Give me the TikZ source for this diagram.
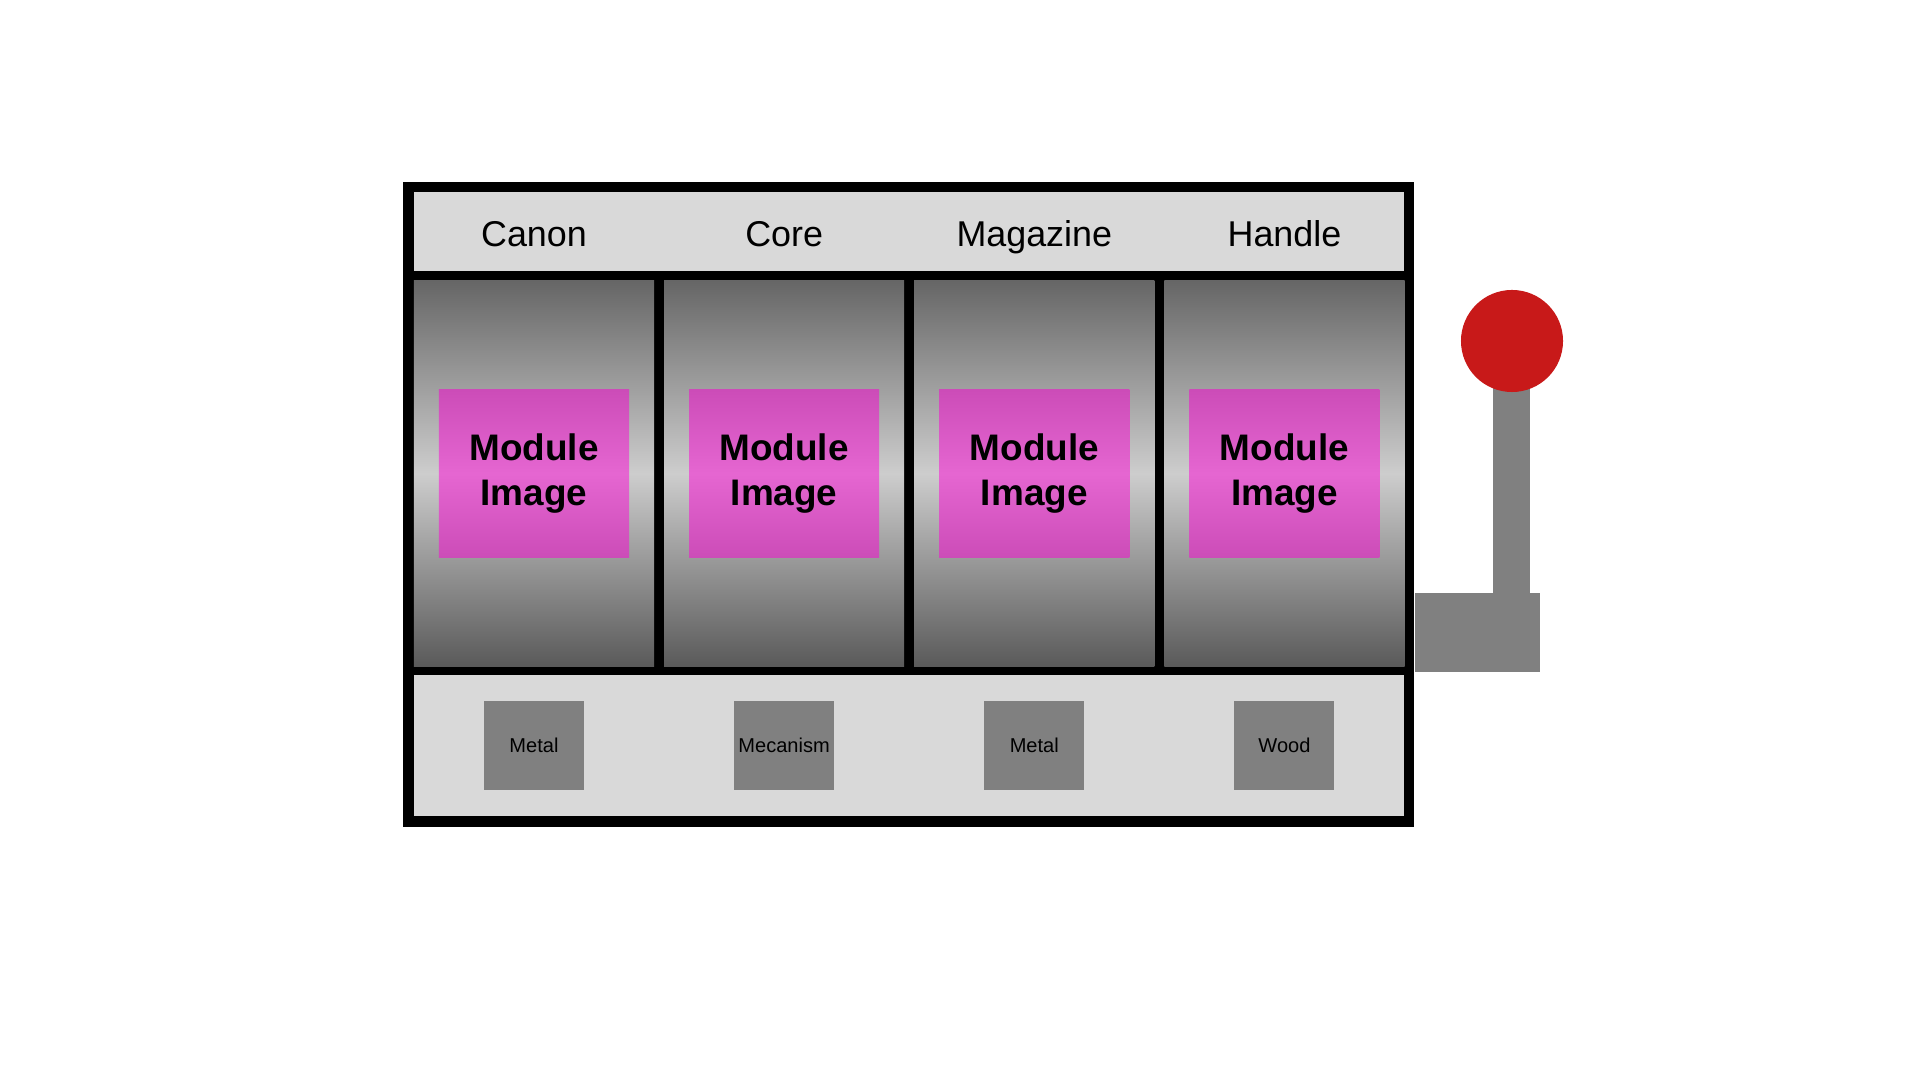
\documentclass[tikz,border=0pt]{standalone}
\usepackage{fontspec}
\setmainfont{Liberation Sans}
\usepackage{tikz}
\usetikzlibrary{positioning}
\definecolor{panelgray}{RGB}{217,217,217}
\definecolor{boxgray}{RGB}{128,128,128}
\definecolor{reeltop}{RGB}{102,102,102}
\definecolor{reelmid}{RGB}{205,205,205}
\definecolor{reelbot}{RGB}{90,90,90}
\definecolor{magedge}{RGB}{204,76,184}
\definecolor{magmid}{RGB}{229,102,209}
\definecolor{knobred}{RGB}{200,25,25}

\begin{document}
\begin{tikzpicture}[x=0.01cm, y=-0.01cm, node distance=0.1cm,
		panel/.style={rectangle, fill=panelgray, inner sep=0pt, outer sep=0pt, minimum width=9.9cm},
		reel/.style={rectangle, inner sep=0pt, outer sep=0pt, minimum width=2.4cm, minimum height=3.85cm,
			top color=reeltop, bottom color=reelbot, middle color=reelmid},
		modimg/.style={rectangle, inner sep=0pt, minimum width=1.9cm, minimum height=1.68cm,
			top color=magedge, bottom color=magedge, middle color=magmid, align=center,
			font=\fontsize{10.5}{12.8}\selectfont\bfseries},
		title/.style={inner sep=0pt, text height=0.36cm, text depth=0.05cm, font=\fontsize{10.2}{12}\selectfont},
		material/.style={rectangle, fill=boxgray, inner sep=0pt, minimum width=1cm, minimum height=0.88cm,
			font=\fontsize{5.7}{7}\selectfont}]
			\useasboundingbox (0,0) rectangle (1920,1080);
			% Frame of the machine
			\node (frame) [rectangle, fill=black, inner sep=0pt, minimum width=10.11cm, minimum height=6.45cm] at (908.5,504.5) {};
			% Header and bottom panels
			\node (header) [panel, minimum height=0.79cm] at (909,231.5) {};
			\node (bottom) [panel, minimum height=1.41cm] at (909,745.5) {};
			% Reels
			\node (reel1) [reel] at (534,473.5) {};
			\node (reel2) [reel, right=of reel1] {};
			\node (reel3) [reel, right=of reel2] {};
			\node (reel4) [reel, right=of reel3] {};
			% Module images
			\node (img1) [modimg] at (reel1) {Module\\Image};
			\node (img2) [modimg] at (reel2) {Module\\Image};
			\node (img3) [modimg] at (reel3) {Module\\Image};
			\node (img4) [modimg] at (reel4) {Module\\Image};
			% Titles
			\node (canon) [title] at (reel1 |- header) {Canon};
			\node (core) [title] at (reel2 |- header) {Core};
			\node (magazine) [title] at (reel3 |- header) {Magazine};
			\node (handle) [title] at (reel4 |- header) {Handle};
			% Materials
			\node (mat1) [material] at (reel1 |- bottom) {Metal};
			\node (mat2) [material] at (reel2 |- bottom) {Mecanism};
			\node (mat3) [material] at (reel3 |- bottom) {Metal};
			\node (mat4) [material] at (reel4 |- bottom) {Wood};
			% Lever
			\node (base) [rectangle, fill=boxgray, inner sep=0pt, minimum width=1.25cm, minimum height=0.79cm, anchor=north west] at (1414,592) {};
			\node (stick) [rectangle, fill=boxgray, inner sep=0pt, minimum width=0.37cm, minimum height=2.55cm, anchor=south] at (1511.5,594) {};
			\node (knob) [circle, fill=knobred, inner sep=0pt, minimum size=1.02cm] at (1512,341) {};
		\end{tikzpicture}
\end{document}
